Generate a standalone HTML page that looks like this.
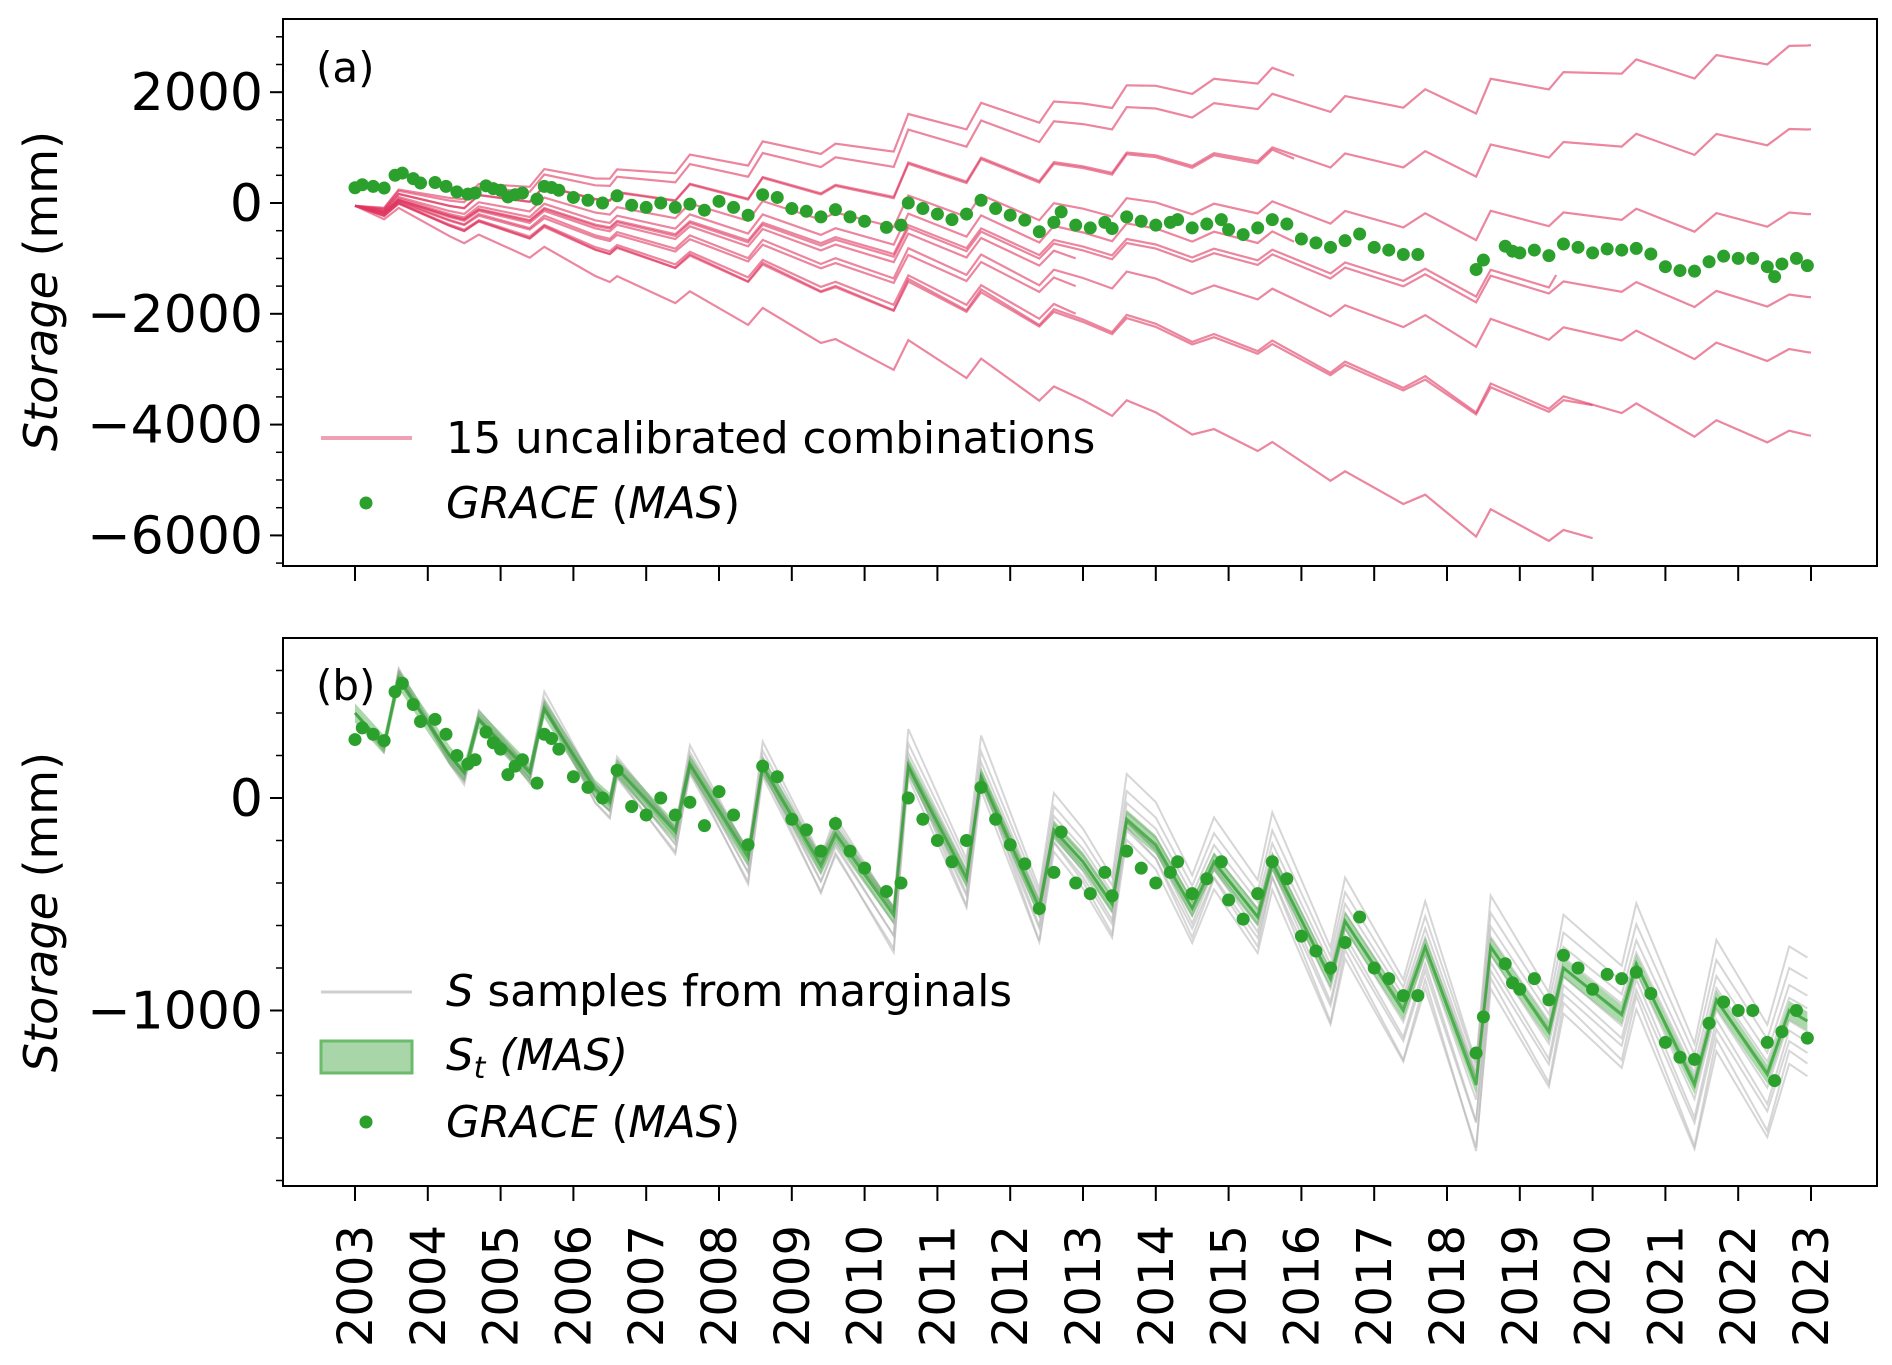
<!DOCTYPE html>
<html><head><meta charset="utf-8"><style>
html,body{margin:0;padding:0;background:#fff;}
svg{display:block;font-family:"DejaVu Sans","Liberation Sans",sans-serif;}
</style></head><body>
<svg id="chart" width="1892" height="1365" viewBox="0 0 1892 1365" xmlns="http://www.w3.org/2000/svg">
<g id="pa"></g>
<g id="pb"></g>
</svg>
<script>
// ---- data ----
const graceT=[2003.0,2003.1,2003.25,2003.4,2003.55,2003.65,2003.8,2003.9,2004.1,2004.25,2004.4,2004.55,2004.65,2004.8,2004.9,2005.0,2005.1,2005.2,2005.3,2005.5,2005.6,2005.7,2005.8,2006.0,2006.2,2006.4,2006.6,2006.8,2007.0,2007.2,2007.4,2007.6,2007.8,2008.0,2008.2,2008.4,2008.6,2008.8,2009.0,2009.2,2009.4,2009.6,2009.8,2010.0,2010.3,2010.5,2010.6,2010.8,2011.0,2011.2,2011.4,2011.6,2011.8,2012.0,2012.2,2012.4,2012.6,2012.7,2012.9,2013.1,2013.3,2013.4,2013.6,2013.8,2014.0,2014.2,2014.3,2014.5,2014.7,2014.9,2015.0,2015.2,2015.4,2015.6,2015.8,2016.0,2016.2,2016.4,2016.6,2016.8,2017.0,2017.2,2017.4,2017.6,2018.4,2018.5,2018.8,2018.9,2019.0,2019.2,2019.4,2019.6,2019.8,2020.0,2020.2,2020.4,2020.6,2020.8,2021.0,2021.2,2021.4,2021.6,2021.8,2022.0,2022.2,2022.4,2022.5,2022.6,2022.8,2022.95];
const graceV=[275,330,300,270,500,540,440,360,370,300,200,160,180,310,260,230,110,150,180,70,300,280,230,100,50,0,130,-40,-80,0,-80,-20,-130,30,-80,-220,150,100,-100,-150,-250,-120,-250,-330,-440,-400,0,-100,-200,-300,-200,50,-100,-220,-310,-520,-350,-160,-400,-450,-350,-460,-250,-330,-400,-350,-300,-450,-380,-300,-480,-570,-450,-300,-380,-650,-720,-800,-680,-560,-800,-850,-930,-930,-1200,-1030,-780,-870,-900,-850,-950,-740,-800,-900,-830,-850,-820,-920,-1150,-1220,-1230,-1060,-960,-1000,-1000,-1150,-1330,-1100,-1000,-1130];
const modelT=[2003.0,2003.4,2003.6,2004.3,2004.5,2004.7,2005.4,2005.6,2006.3,2006.5,2006.6,2007.4,2007.6,2008.4,2008.6,2009.4,2009.6,2010.4,2010.6,2011.4,2011.6,2012.4,2012.6,2013.0,2013.4,2013.6,2014.0,2014.5,2014.8,2015.4,2015.6,2016.4,2016.6,2017.4,2017.7,2018.4,2018.6,2019.4,2019.6,2020.4,2020.6,2021.4,2021.7,2022.4,2022.7,2022.95];
const modelV=[400,250,560,200,120,370,120,420,40,-20,140,-160,160,-280,150,-320,-170,-550,150,-380,100,-520,-150,-300,-500,-100,-220,-520,-300,-560,-300,-850,-580,-1000,-700,-1350,-700,-1100,-800,-1020,-780,-1350,-950,-1300,-1000,-1050];
const grayDrift=[300,200,120,60,0,-50,-100,-150,-200,-260];
const grayAmp=[1.2,1.1,1.05,1.0,0.95,1.05,1.15,1.1,1.25,1.15];
const redEnd=[2850,1330,-200,-1700,-2700,-4200,2300,800,-3650,-6050,-1000,-1500,-700,-1300,-2000];
const redEndYear=[2023,2023,2023,2023,2023,2023,2015.9,2015.9,2020,2020,2012.9,2012.9,2015.9,2019.5,2012.9];
const redAmp=[0.9,0.85,0.8,0.75,0.8,0.85,0.9,0.85,0.8,0.85,0.75,0.75,0.8,0.75,0.8];
const yearTicks=[2003,2004,2005,2006,2007,2008,2009,2010,2011,2012,2013,2014,2015,2016,2017,2018,2019,2020,2021,2022,2023];
const aTicks=[2000,0,-2000,-4000,-6000];
const bTicks=[0,-1000];
// ---- axes ----
const X0=283,X1=1877;
const xs=t=>355+(t-2003)*72.8;
const ya=v=>203-v*0.0554;
const yb=v=>798-v*0.2125;
const A={top:19,bot:566}, B={top:638,bot:1186};
const NS='http://www.w3.org/2000/svg';
function mk(parent,tag,attrs){const e=document.createElementNS(NS,tag);for(const k in attrs)e.setAttribute(k,attrs[k]);parent.appendChild(e);return e;}
function modelAt(t){for(let i=0;i<modelT.length-1;i++){if(t>=modelT[i]&&t<=modelT[i+1]){const f=(t-modelT[i])/(modelT[i+1]-modelT[i]);return modelV[i]+f*(modelV[i+1]-modelV[i]);}}return modelV[modelV.length-1];}
const trendAt=t=>400+(t-2003)*(-1450/19.95);
const pa=document.getElementById('pa'), pb=document.getElementById('pb');
function frame(g,P,ticks,ys,minStep,minLo,minHi,labelY){
  for(const v of ticks){const y=ys(v);
    const tk=mk(g,'line',{x1:X0-13,x2:X0,y1:y,y2:y,stroke:'#000','stroke-width':2});
    
    const tx=mk(g,'text',{x:X0-20,y:y+18,'text-anchor':'end','font-size':52});
    tx.textContent=(v<0?'\u2212':'')+Math.abs(v);
    }
  for(let v=minLo;v<=minHi;v+=minStep){const y=ys(v);if(y<P.top||y>P.bot)continue;
    mk(g,'line',{x1:X0-7,x2:X0,y1:y,y2:y,stroke:'#000','stroke-width':1.5});}
  for(const yr of yearTicks){const x=xs(yr);
    const tk=mk(g,'line',{x1:x,x2:x,y1:P.bot,y2:P.bot+15,stroke:'#000','stroke-width':2});
    }
  const yl=mk(g,'text',{transform:`translate(57,${labelY}) rotate(-90)`,'text-anchor':'middle','font-size':46});
  yl.innerHTML='<tspan font-style="italic">Storage</tspan> (mm)';
  
}
function border(g,P){const r=mk(g,'rect',{x:X0,y:P.top,width:X1-X0,height:P.bot-P.top,fill:'none',stroke:'#000','stroke-width':2});
  }
function poly(g,pts,attrs){return mk(g,'polyline',Object.assign({points:pts.map(p=>p[0].toFixed(1)+','+p[1].toFixed(1)).join(' '),fill:'none'},attrs));}
const tGrid=modelT.slice();
// ---- Panel A ----
frame(pa,A,aTicks,ya,500,-6500,3000,291);
const cpa=mk(pa,'clipPath',{id:'cpa'});mk(cpa,'rect',{x:X0,y:A.top,width:X1-X0,height:A.bot-A.top});
const ga=mk(pa,'g',{'clip-path':'url(#cpa)'});
for(let i=0;i<redEnd.length;i++){
  const slope=(redEnd[i]+50)/(redEndYear[i]-2003);
  const pts=[];
  for(const t of tGrid){if(t>redEndYear[i])break;
    const v=-50+slope*(t-2003)+redAmp[i]*(modelAt(t)-trendAt(t));
    pts.push([xs(t),ya(v)]);}
  const last=-50+slope*(redEndYear[i]-2003);pts.push([xs(redEndYear[i]),ya(last)]);
  const l=poly(ga,pts,{stroke:'#e0365f','stroke-width':2.2,opacity:0.6});
  
}
for(let i=0;i<graceT.length;i++){const c=mk(ga,'circle',{cx:xs(graceT[i]),cy:ya(graceV[i]),r:6.5,fill:'#2ca02c'});
  }
border(pa,A);
let t=mk(pa,'text',{x:316,y:82,'font-size':42});t.textContent='(a)';

let lg=mk(pa,'g',{});
mk(lg,'line',{x1:321,x2:412,y1:438,y2:438,stroke:'#f0a0b4','stroke-width':4});
t=mk(lg,'text',{x:446,y:453,'font-size':43.5});t.textContent='15 uncalibrated combinations';

mk(lg,'circle',{cx:366,cy:503,r:6.5,fill:'#2ca02c'});
t=mk(lg,'text',{x:446,y:518,'font-size':43.5});t.innerHTML='<tspan font-style="italic">GRACE</tspan> (<tspan font-style="italic">MAS</tspan>)';

// ---- Panel B ----
frame(pb,B,bTicks,yb,200,-1800,800,912);
const cpb=mk(pb,'clipPath',{id:'cpb'});mk(cpb,'rect',{x:X0,y:B.top,width:X1-X0,height:B.bot-B.top});
const gb=mk(pb,'g',{'clip-path':'url(#cpb)'});
for(let i=0;i<grayDrift.length;i++){
  const pts=tGrid.map(t=>[xs(t),yb(trendAt(t)+grayAmp[i]*(modelAt(t)-trendAt(t))+grayDrift[i]*(t-2003)/20)]);
  const l=poly(gb,pts,{stroke:'#b5b5b5','stroke-width':2,opacity:0.55});
  
}
const up=tGrid.map(t=>[xs(t),yb(modelAt(t)+45)]), dn=tGrid.map(t=>[xs(t),yb(modelAt(t)-45)]).reverse();
const band=mk(gb,'polygon',{points:up.concat(dn).map(p=>p[0].toFixed(1)+','+p[1].toFixed(1)).join(' '),fill:'#2ca02c',opacity:0.4});

const ml=poly(gb,tGrid.map(t=>[xs(t),yb(modelAt(t))]),{stroke:'#2ca02c','stroke-width':3,opacity:0.7});

for(let i=0;i<graceT.length;i++){const c=mk(gb,'circle',{cx:xs(graceT[i]),cy:yb(graceV[i]),r:6.5,fill:'#2ca02c'});
  }
border(pb,B);
t=mk(pb,'text',{x:316,y:700,'font-size':42});t.textContent='(b)';

lg=mk(pb,'g',{});
mk(lg,'line',{x1:321,x2:412,y1:992,y2:992,stroke:'#cfcfcf','stroke-width':3});
t=mk(lg,'text',{x:446,y:1006,'font-size':43.5});t.innerHTML='<tspan font-style="italic">S</tspan> samples from marginals';

mk(lg,'rect',{x:321,y:1041,width:91,height:32,fill:'#a8d6a8',stroke:'#6cba6c','stroke-width':3});
t=mk(lg,'text',{x:446,y:1070,'font-size':43.5});t.innerHTML='<tspan font-style="italic">S<tspan font-size="30" dy="8">t</tspan><tspan dy="-8"> (MAS)</tspan></tspan>';

mk(lg,'circle',{cx:366,cy:1122,r:6.5,fill:'#2ca02c'});
t=mk(lg,'text',{x:446,y:1137,'font-size':43.5});t.innerHTML='<tspan font-style="italic">GRACE</tspan> (<tspan font-style="italic">MAS</tspan>)';

for(const yr of yearTicks){const x=xs(yr);
  const tx=mk(pb,'text',{transform:`translate(${x+17},1225) rotate(-90)`,'text-anchor':'end','font-size':48});
  tx.textContent=yr;
  }
</script>
</body></html>
